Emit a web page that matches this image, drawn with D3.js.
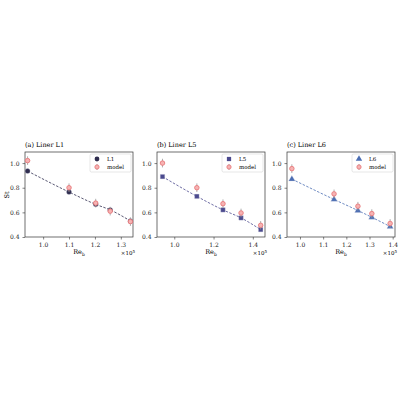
<!DOCTYPE html>
<html><head><meta charset="utf-8">
<script src="https://cdn.jsdelivr.net/npm/d3@7"></script>
<style>body{margin:0;background:#fff}text{font-family:"DejaVu Serif","Liberation Serif",serif}</style>
</head><body><svg id="c" width="400" height="400"></svg>
<script>
// panel data
var titles = ["(a) Liner L1", "(b) Liner L5", "(c) Liner L6"]
var names = ["L1", "L5", "L6"]
var xDomains = [[0.93, 1.347], [0.912, 1.462], [0.944, 1.41]]
var xTicks = [[1.0, 1.1, 1.2, 1.3], [1.0, 1.2, 1.4], [1.0, 1.1, 1.2, 1.3, 1.4]]
var reB = [
  [0.94, 1.10, 1.203, 1.259, 1.337],
  [0.94, 1.115, 1.248, 1.34, 1.44],
  [0.965, 1.147, 1.25, 1.31, 1.389]
]
var stMeas = [
  [0.935, 0.765, 0.665, 0.62, 0.53],
  [0.89, 0.73, 0.62, 0.555, 0.46],
  [0.87, 0.705, 0.615, 0.56, 0.485]
]
var stModel = [
  [1.02, 0.80, 0.675, 0.61, 0.525],
  [1.0, 0.80, 0.67, 0.595, 0.495],
  [0.955, 0.75, 0.65, 0.59, 0.51]
]
var modelErr = 0.035
var yTicks = [0.4, 0.6, 0.8, 1.0]

var colors = ["#2f2d4f", "#4b4a8e", "#4a6db3"]
var symbols = [d3.symbolHexagon || d3.symbolCircle, d3.symbolSquare, d3.symbolTriangle]
var modelColor = "#e8787a"

var svg = d3.select("#c")
var lefts = [25, 157, 287], pw = 108, plotTop = 152, plotBottom = 237

for (var p = 0; p < 3; p++) {
  var g = svg.append("g")
  var x = d3.scaleLinear().domain(xDomains[p]).range([lefts[p], lefts[p] + pw])
  var y = d3.scaleLinear().domain([0.4, 1.09]).range([plotBottom, plotTop])

  g.append("g").attr("transform", "translate(0," + plotBottom + ")")
    .call(d3.axisBottom(x).tickValues(xTicks[p]).tickFormat(d3.format(".1f")).tickSize(2.5))
  g.append("g").attr("transform", "translate(" + lefts[p] + ",0)")
    .call(d3.axisLeft(y).tickValues(yTicks).tickFormat(d3.format(".1f")).tickSize(2.5))
  g.selectAll(".domain").remove()
  g.append("rect").attr("x", lefts[p]).attr("y", plotTop).attr("width", pw).attr("height", plotBottom - plotTop)
    .attr("fill", "none").attr("stroke", "#333").attr("stroke-width", 0.7)
  g.selectAll(".tick text").attr("font-size", 6).attr("fill", "#222")
  g.selectAll(".tick line").attr("stroke", "#333").attr("stroke-width", 0.6)

  g.append("text").attr("x", lefts[p]).attr("y", plotTop - 5).attr("font-size", 6.5).text(titles[p])
  var xl = g.append("text").attr("x", lefts[p] + pw / 2).attr("y", plotBottom + 17).attr("text-anchor", "middle").attr("font-size", 6.5).text("Re")
  xl.append("tspan").attr("font-size", 4.5).attr("dy", 1.5).text("b")
  var sc = g.append("text").attr("x", lefts[p] + pw + 2).attr("y", plotBottom + 18).attr("text-anchor", "end").attr("font-size", 5.5).text("×10")
  sc.append("tspan").attr("font-size", 4).attr("dy", -2.5).text("5")

  var pts = reB[p].map(function(v, i) { return [v, stMeas[p][i]] })
  g.append("path").datum(pts)
    .attr("d", d3.line().x(function(d){ return x(d[0]) }).y(function(d){ return y(d[1]) }).curve(d3.curveMonotoneX))
    .attr("fill", "none").attr("stroke", colors[p]).attr("stroke-width", 0.8).attr("stroke-dasharray", "2.5,1.5")

  g.selectAll(".meas").data(pts).enter().append("path")
    .attr("transform", function(d){ return "translate(" + x(d[0]) + "," + y(d[1]) + ")" })
    .attr("d", d3.symbol().type(symbols[p]).size(p == 2 ? 18 : 20))
    .attr("fill", colors[p]).attr("stroke", "#ccd").attr("stroke-width", 0.3)

  var mpts = reB[p].map(function(v, i) { return [v, stModel[p][i]] })
  g.selectAll(".err").data(mpts).enter().append("line")
    .attr("x1", function(d){ return x(d[0]) }).attr("x2", function(d){ return x(d[0]) })
    .attr("y1", function(d){ return y(d[1] - modelErr) }).attr("y2", function(d){ return y(d[1] + modelErr) })
    .attr("stroke", "#999").attr("stroke-width", 0.8)
  g.selectAll(".mod").data(mpts).enter().append("path")
    .attr("transform", function(d){ return "translate(" + x(d[0]) + "," + y(d[1]) + ")" })
    .attr("d", d3.symbol().type(d3.symbolCircle).size(16))
    .attr("fill", "#f6b3b3").attr("stroke", modelColor).attr("stroke-width", 0.9)

  // legend
  var lx = lefts[p] + pw - 43, ly = plotTop + 2
  g.append("rect").attr("x", lx).attr("y", ly).attr("width", 41).attr("height", 18).attr("rx", 1.5)
    .attr("fill", "#fff").attr("stroke", "#ccc").attr("stroke-width", 0.5)
  g.append("path").attr("transform", "translate(" + (lx + 7) + "," + (ly + 5) + ")")
    .attr("d", d3.symbol().type(symbols[p]).size(18)).attr("fill", colors[p])
  g.append("text").attr("x", lx + 17).attr("y", ly + 7).attr("font-size", 5.5).text(names[p])
  g.append("line").attr("x1", lx + 7).attr("x2", lx + 7).attr("y1", ly + 10).attr("y2", ly + 16).attr("stroke", "#999").attr("stroke-width", 0.8)
  g.append("path").attr("transform", "translate(" + (lx + 7) + "," + (ly + 13) + ")")
    .attr("d", d3.symbol().type(d3.symbolCircle).size(14)).attr("fill", "#f6b3b3").attr("stroke", modelColor).attr("stroke-width", 0.9)
  g.append("text").attr("x", lx + 17).attr("y", ly + 15).attr("font-size", 5.5).text("model")
}
svg.append("text").attr("transform", "translate(9,195) rotate(-90)").attr("text-anchor", "middle").attr("font-size", 6.5).text("St")
</script></body></html>
